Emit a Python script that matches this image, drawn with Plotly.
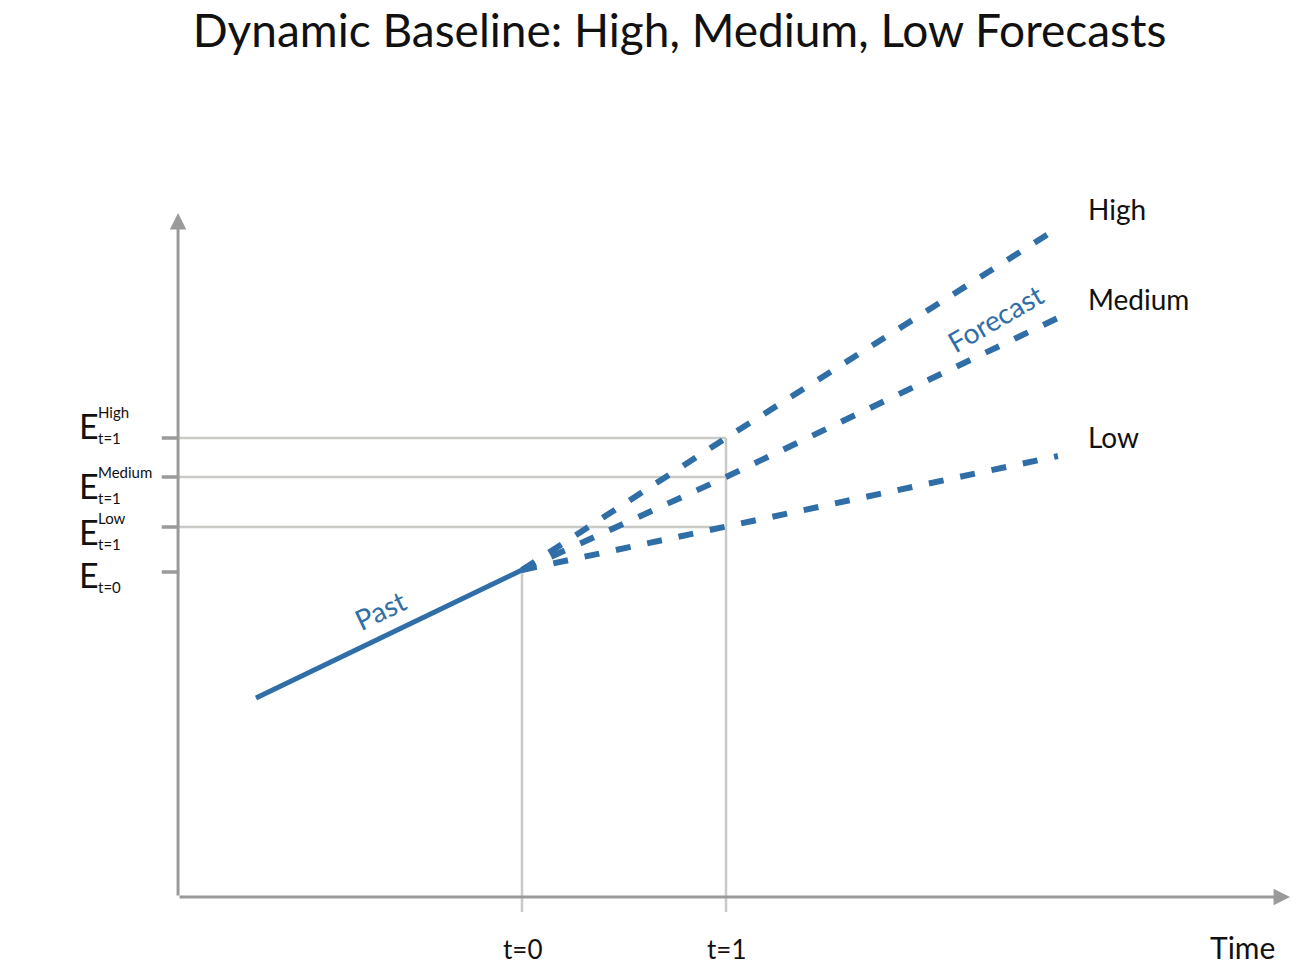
import plotly.graph_objects as go

# ---- data (time units: t=0, t=1; emissions in arbitrary units) ----
past_t = [-1.304, 0.0]
past_e = [1.99, 3.27]

forecast_t = [0.0, 1.0, 2.627]
high = [3.27, 4.59, 6.69]
medium = [3.27, 4.20, 5.79]
low = [3.27, 3.70, 4.41]

scenario_names = ["High", "Medium", "Low"]
e_t0 = 3.25
x_ticks = [0.0, 1.0]
x_tick_labels = ["t=0", "t=1"]

# y-axis level labels: superscript, subscript
level_sups = ["High", "Medium", "Low", ""]
level_subs = ["t=1", "t=1", "t=1", "t=0"]

x_axis_start, x_axis_end = -1.686, 3.765
y_axis_top = 6.84

BLUE = "#2f6ea6"
GUIDE = "#c9c9c5"
AXIS = "#9a9a9a"
FONT = "Lato"

fig = go.Figure()

# past line
fig.add_trace(go.Scatter(x=past_t, y=past_e, mode="lines",
                         line=dict(color=BLUE, width=5), hoverinfo="skip"))
# forecast lines
for series in (high, medium, low):
    fig.add_trace(go.Scatter(x=forecast_t, y=series, mode="lines",
                             line=dict(color=BLUE, width=6, dash="15px,17px"),
                             hoverinfo="skip"))

shapes = []
# horizontal guides at t=1 levels
for series in (high, medium, low):
    shapes.append(dict(type="line", xref="x", yref="y", x0=x_axis_start, x1=1.0,
                       y0=series[1], y1=series[1], line=dict(color=GUIDE, width=2.5),
                       layer="below"))
    shapes.append(dict(type="line", xref="x", yref="y", x0=x_axis_start - 0.08,
                       x1=x_axis_start, y0=series[1], y1=series[1],
                       line=dict(color=AXIS, width=3.5)))
shapes.append(dict(type="line", xref="x", yref="y", x0=x_axis_start - 0.08,
                   x1=x_axis_start, y0=e_t0, y1=e_t0, line=dict(color=AXIS, width=3.5)))
# vertical guides
shapes.append(dict(type="line", xref="x", yref="y", x0=0, x1=0, y0=-0.15, y1=past_e[-1],
                   line=dict(color=GUIDE, width=2.5), layer="below"))
shapes.append(dict(type="line", xref="x", yref="y", x0=1, x1=1, y0=-0.15, y1=high[1],
                   line=dict(color=GUIDE, width=2.5), layer="below"))

annotations = []
# axes with arrows
annotations.append(dict(x=x_axis_end, y=0, ax=x_axis_start, ay=0, xref="x", yref="y",
                        axref="x", ayref="y", text="", showarrow=True, arrowhead=2,
                        arrowsize=1.1, arrowwidth=3, arrowcolor=AXIS))
annotations.append(dict(x=x_axis_start, y=y_axis_top, ax=x_axis_start, ay=0, xref="x",
                        yref="y", axref="x", ayref="y", text="", showarrow=True,
                        arrowhead=2, arrowsize=1.1, arrowwidth=3, arrowcolor=AXIS))

# axis titles
annotations.append(dict(x=-2.525, y=6.67, xref="x", yref="y", text="Emissions",
                        showarrow=False, xanchor="left", yanchor="middle",
                        font=dict(family=FONT, size=30, color="#111")))
annotations.append(dict(x=3.7, y=-0.5, xref="x", yref="y", text="Time",
                        showarrow=False, xanchor="right", yanchor="middle",
                        font=dict(family=FONT, size=30, color="#111")))

# x tick labels
for t, lab in zip(x_ticks, x_tick_labels):
    annotations.append(dict(x=t, y=-0.52, xref="x", yref="y", text=lab, showarrow=False,
                            xanchor="center", yanchor="middle",
                            font=dict(family=FONT, size=26, color="#111")))

# scenario end labels
for series, name in zip((high, medium, low), scenario_names):
    annotations.append(dict(x=2.765, y=series[-1] + 0.19, xref="x", yref="y", text=name,
                            showarrow=False, xanchor="left", yanchor="middle",
                            font=dict(family=FONT, size=28, color="#111")))

# y labels: E with superscript / subscript, placed beside their level ticks
levels = [high[1], medium[1], low[1], e_t0]
label_shift = [0.13, -0.08, -0.04, -0.02]   # offset of each "E" from its tick
x_E = -2.175
for level, shift, sup, sub in zip(levels, label_shift, level_sups, level_subs):
    yc = level + shift
    annotations.append(dict(x=x_E, y=yc, xref="x", yref="y", text="E",
                            showarrow=False, xanchor="left", yanchor="middle",
                            borderpad=0,
                            font=dict(family=FONT, size=34, color="#111")))
    if sup:
        annotations.append(dict(x=x_E + 0.09, y=yc + 0.13, xref="x", yref="y",
                                text=sup, showarrow=False, xanchor="left",
                                yanchor="middle", borderpad=0,
                                font=dict(family=FONT, size=15, color="#111")))
    annotations.append(dict(x=x_E + 0.09, y=yc - 0.13, xref="x", yref="y", text=sub,
                            showarrow=False, xanchor="left", yanchor="middle",
                            borderpad=0,
                            font=dict(family=FONT, size=15, color="#111")))

# Past / Forecast labels along the lines
annotations.append(dict(x=-0.696, y=2.87, xref="x", yref="y", text="Past",
                        showarrow=False, textangle=-25.7,
                        font=dict(family=FONT, size=28, color=BLUE)))
annotations.append(dict(x=2.32, y=5.79, xref="x", yref="y", text="Forecast",
                        showarrow=False, textangle=-30,
                        font=dict(family=FONT, size=28, color=BLUE)))

# the page body adds an 8px offset; the axis ranges below compensate for it
fig.update_layout(
    width=1299, height=971,
    margin=dict(l=0, r=0, t=0, b=0),
    paper_bgcolor="white", plot_bgcolor="white",
    showlegend=False,
    title=dict(text="Dynamic Baseline: High, Medium, Low Forecasts", x=0.517,
               xanchor="center", y=0.9765, yref="container", yanchor="middle",
               font=dict(family=FONT, size=46, color="#111")),
    xaxis=dict(range=[-514 / 204, 785 / 204], visible=False, fixedrange=True),
    yaxis=dict(range=[-0.82, 8.89], visible=False, fixedrange=True),
    shapes=shapes,
    annotations=annotations,
)

fig.write_html("out.html")
